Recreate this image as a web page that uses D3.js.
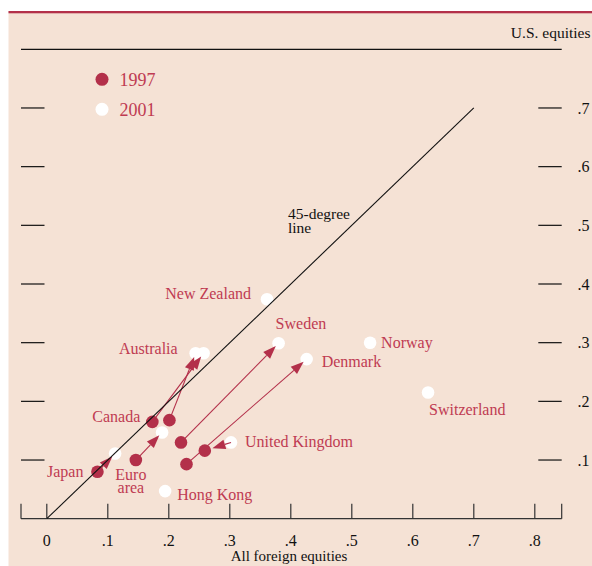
<!DOCTYPE html>
<html>
<head>
<meta charset="utf-8">
<script src="https://cdn.jsdelivr.net/npm/d3@7"></script>
<style>
  body { margin: 0; background: #fff; }
  svg { display: block; }
</style>
</head>
<body>
<script>
// shares of foreign equities vs U.S. equities, 1997 and 2001
const countries = ["Japan", "Euro area", "Canada", "Australia", "Sweden", "Denmark",
  "United Kingdom", "New Zealand", "Norway", "Switzerland", "Hong Kong"];
const foreign1997 = [0.083, 0.146, 0.173, 0.201, 0.220, 0.229, 0.259, null, null, null, null];
const us1997 = [0.080, 0.100, 0.165, 0.168, 0.130, 0.093, 0.116, null, null, null, null];
const foreign2001 = [0.112, 0.189, 0.257, 0.244, 0.380, 0.426, 0.302, 0.361, 0.530, 0.625, 0.194];
const us2001 = [0.111, 0.147, 0.282, 0.282, 0.299, 0.272, 0.130, 0.374, 0.300, 0.215, 0.047];
// UK arrow is drawn pointing back at the 1997 dot in the original
const arrowReversed = ["United Kingdom"];
const xTicks = [0, 0.1, 0.2, 0.3, 0.4, 0.5, 0.6, 0.7, 0.8];
const xTickLabels = ["0", ".1", ".2", ".3", ".4", ".5", ".6", ".7", ".8"];
const yTicks = [0.1, 0.2, 0.3, 0.4, 0.5, 0.6, 0.7];
const yTickLabels = [".1", ".2", ".3", ".4", ".5", ".6", ".7"];
const legendYears = ["1997", "2001"];

const W = 592, H = 566;
const RED = "#b3304a", TEXT_RED = "#bf3b52", BG = "#f5e2d5";
const FONT = "'Liberation Serif', 'Times New Roman', serif";

const x = d3.scaleLinear().domain([0, 0.8]).range([46.8, 534.8]);
const y = d3.scaleLinear().domain([0, 0.8]).range([518.7, 49.3]);
const xLeft = 21, xRight = 561.7;

// label placement, relative to a point (layout only)
const labelPos = {
  "Japan": { at: 1997, dx: -14, dy: 5, anchor: "end" },
  "Euro area": { at: 1997, dx: -5, dy: 20, anchor: "middle", lines: ["Euro", "area"] },
  "Canada": { at: 1997, dx: -12, dy: 0, anchor: "end" },
  "Australia": { at: 2001, dx: -18, dy: 1, anchor: "end" },
  "Sweden": { at: 2001, dx: -3, dy: -14, anchor: "start" },
  "Denmark": { at: 2001, dx: 15, dy: 8, anchor: "start" },
  "United Kingdom": { at: 2001, dx: 14, dy: 4.5, anchor: "start" },
  "New Zealand": { at: 2001, dx: -16, dy: 0, anchor: "end" },
  "Norway": { at: 2001, dx: 11, dy: 5, anchor: "start" },
  "Switzerland": { at: 2001, dx: 1, dy: 22, anchor: "start" },
  "Hong Kong": { at: 2001, dx: 12, dy: 9, anchor: "start" }
};

const data = countries.map((c, i) => ({
  name: c,
  x97: foreign1997[i], y97: us1997[i],
  x01: foreign2001[i], y01: us2001[i]
}));

const svg = d3.select("body").append("svg")
  .attr("width", W).attr("height", H);

svg.append("rect")
  .attr("x", 8.5).attr("y", 11).attr("width", W - 8.5).attr("height", H - 11)
  .attr("fill", BG);
svg.append("rect")
  .attr("x", 8.5).attr("y", 11).attr("width", W - 8.5).attr("height", 2.3)
  .attr("fill", RED);

// frame lines
svg.append("line")
  .attr("x1", xLeft).attr("x2", xRight).attr("y1", y(0.8)).attr("y2", y(0.8))
  .attr("stroke", "#111").attr("stroke-width", 1.3);
svg.append("text")
  .attr("x", 590.5).attr("y", 38).attr("text-anchor", "end")
  .style("font-family", FONT).style("font-size", "15.5px").attr("fill", "#111")
  .text("U.S. equities");

// x axis
svg.append("line")
  .attr("x1", xLeft).attr("x2", xRight).attr("y1", y(0)).attr("y2", y(0))
  .attr("stroke", "#333").attr("stroke-width", 1.3);
const xTickPos = [xLeft].concat(xTicks.map(x)).concat([xRight]);
svg.selectAll(".xtick").data(xTickPos).enter().append("line")
  .attr("x1", d => d).attr("x2", d => d)
  .attr("y1", y(0)).attr("y2", y(0) - 15)
  .attr("stroke", "#333").attr("stroke-width", 1.2);
svg.selectAll(".xlab").data(xTicks).enter().append("text")
  .attr("x", d => x(d)).attr("y", 545.7).attr("text-anchor", "middle")
  .style("font-family", FONT).style("font-size", "16px").attr("fill", "#111")
  .text((d, i) => xTickLabels[i]);
svg.append("text")
  .attr("x", 289).attr("y", 561).attr("text-anchor", "middle")
  .style("font-family", FONT).style("font-size", "15px").attr("fill", "#111")
  .text("All foreign equities");

// y ticks, both sides
yTicks.forEach((t, i) => {
  svg.append("line")
    .attr("x1", xLeft).attr("x2", 44.5).attr("y1", y(t)).attr("y2", y(t))
    .attr("stroke", "#111").attr("stroke-width", 1.2);
  svg.append("line")
    .attr("x1", 538.3).attr("x2", xRight).attr("y1", y(t)).attr("y2", y(t))
    .attr("stroke", "#111").attr("stroke-width", 1.2);
  svg.append("text")
    .attr("x", 577.5).attr("y", y(t)).attr("dy", "0.35em")
    .style("font-family", FONT).style("font-size", "16px").attr("fill", "#111")
    .text(yTickLabels[i]);
});

// legend
legendYears.forEach((yr, i) => {
  svg.append("circle")
    .attr("cx", 102).attr("cy", 79.3 + i * 30).attr("r", 6.5)
    .attr("fill", i === 0 ? RED : "#fff");
  svg.append("text")
    .attr("x", 119.5).attr("y", 85.5 + i * 30)
    .style("font-family", FONT).style("font-size", "18px").attr("fill", TEXT_RED)
    .text(yr);
});

// 2001 dots
svg.append("g").selectAll("circle")
  .data(data).enter().append("circle")
  .attr("cx", d => x(d.x01)).attr("cy", d => y(d.y01)).attr("r", 6.3)
  .attr("fill", "#fff");

// arrows 1997 -> 2001
const arrowG = svg.append("g");
data.filter(d => d.x97 != null).forEach(d => {
  let p0 = [x(d.x97), y(d.y97)], p1 = [x(d.x01), y(d.y01)];
  let shorten = 4;
  if (arrowReversed.includes(d.name)) { [p0, p1] = [p1, p0]; shorten = 8; }
  const dx = p1[0] - p0[0], dy = p1[1] - p0[1];
  const len = Math.hypot(dx, dy);
  const ux = dx / len, uy = dy / len;
  const tip = [p1[0] - ux * shorten, p1[1] - uy * shorten];
  const headL = 13, headW = 4.8;
  const base = [tip[0] - ux * headL, tip[1] - uy * headL];
  arrowG.append("line")
    .attr("x1", p0[0]).attr("y1", p0[1]).attr("x2", base[0]).attr("y2", base[1])
    .attr("stroke", RED).attr("stroke-width", 1.1);
  arrowG.append("path")
    .attr("d", "M" + tip + "L" + [base[0] - uy * headW, base[1] + ux * headW] +
      "L" + [base[0] + uy * headW, base[1] - ux * headW] + "Z")
    .attr("fill", RED);
});

// 1997 dots
svg.append("g").selectAll("circle")
  .data(data.filter(d => d.x97 != null)).enter().append("circle")
  .attr("cx", d => x(d.x97)).attr("cy", d => y(d.y97)).attr("r", 6.3)
  .attr("fill", RED);

// 45-degree line
svg.append("line")
  .attr("x1", x(0)).attr("y1", y(0)).attr("x2", x(0.7)).attr("y2", y(0.7))
  .attr("stroke", "#111").attr("stroke-width", 1.1);
svg.append("text")
  .attr("x", 288).attr("y", 218.5)
  .style("font-family", FONT).style("font-size", "15.5px").attr("fill", "#111")
  .text("45-degree");
svg.append("text")
  .attr("x", 288).attr("y", 232.5)
  .style("font-family", FONT).style("font-size", "15.5px").attr("fill", "#111")
  .text("line");

// country labels
data.forEach(d => {
  const lp = labelPos[d.name];
  const px = lp.at === 1997 ? x(d.x97) : x(d.x01);
  const py = lp.at === 1997 ? y(d.y97) : y(d.y01);
  const lines = lp.lines || [d.name];
  lines.forEach((ln, k) => {
    svg.append("text")
      .attr("x", px + lp.dx).attr("y", py + lp.dy + k * 13)
      .attr("text-anchor", lp.anchor)
      .style("font-family", FONT).style("font-size", "16px").attr("fill", TEXT_RED)
      .text(ln);
  });
});
</script>
</body>
</html>
